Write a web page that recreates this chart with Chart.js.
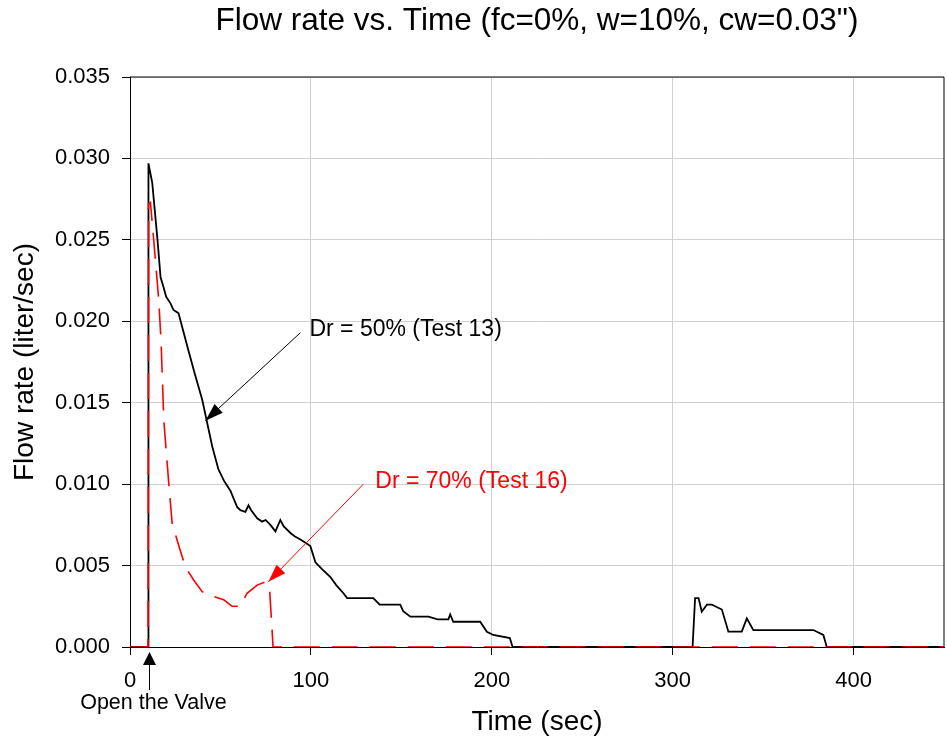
<!DOCTYPE html>
<html>
<head>
<meta charset="utf-8">
<title>Flow rate vs. Time</title>
<script src="https://cdn.jsdelivr.net/npm/chart.js@4/dist/chart.umd.min.js"></script>
<style>
  body { margin: 0; background: #fff; }
  #chart { display: block; }
</style>
</head>
<body>
<canvas id="chart" width="947" height="745"></canvas>
<script>
// Test 13 (Dr = 50%) - time in sec, flow in liter/sec
const t13 = [0, 10, 10.2, 12.3, 15.2, 16.9, 18.5, 20, 22.4, 24, 26.8, 28, 32.3, 36, 39.9, 42.6, 45.5, 48.9,
  52, 55.5, 59.2, 61, 63.8, 65.5, 67, 70.3, 73, 75, 77.6, 80.4, 83.1, 85, 88.7, 91, 94.2, 97, 99.7,
  102.5, 106, 110.8, 114, 118, 120, 134.5, 138, 149.4, 151, 155, 165, 170, 176, 177, 178.7, 193.6,
  197.3, 200.8, 210, 211.5, 311, 312.4, 314.3, 316.1, 318.9, 321.7, 327.2, 330.8, 338.2, 341, 344.6,
  377.8, 383.3, 385.2, 450];
const q13 = [0, 0, 0.0297, 0.0285, 0.025, 0.0227, 0.0221, 0.0215, 0.0211, 0.0207, 0.0205, 0.0200, 0.0182,
  0.0167, 0.0152, 0.0138, 0.0123, 0.0109, 0.0102, 0.0096, 0.0086, 0.0084, 0.0083, 0.0087, 0.0084, 0.0079,
  0.0077, 0.0078, 0.0075, 0.0071, 0.0078, 0.0074, 0.0070, 0.0068, 0.0066, 0.0064, 0.0062, 0.0052, 0.0048,
  0.0043, 0.0038, 0.0033, 0.0030, 0.0030, 0.0026, 0.0026, 0.0022, 0.00186, 0.00186, 0.0017, 0.0017,
  0.0020, 0.00155, 0.00155, 0.00094, 0.00074, 0.00055, 0, 0, 0.0030, 0.0030, 0.00217, 0.0026, 0.0026,
  0.0023, 0.00094, 0.00094, 0.00176, 0.00104, 0.00104, 0.00074, 0, 0];

// Test 16 (Dr = 70%)
const t16 = [0, 10, 10.3, 11.3, 13.1, 15.9, 17.2, 18.7, 21.4, 23.3, 27, 30.7, 35.3, 39.9, 46.3, 51.8,
  56.5, 61, 64.7, 70.3, 74.9, 77.2, 79.1, 450];
const q16 = [0, 0, 0.0272, 0.0273, 0.025, 0.0213, 0.0187, 0.0139, 0.0101, 0.0076, 0.0062, 0.0049, 0.0041,
  0.0034, 0.0031, 0.0029, 0.0025, 0.0025, 0.0033, 0.0038, 0.0040, 0.0035, 0, 0];

const xTicks = [0, 100, 200, 300, 400];
const yTicks = [0, 0.005, 0.010, 0.015, 0.020, 0.025, 0.030, 0.035];

// labels with arrows, in data units
const notes = [
  { text: 'Dr = 50% (Test 13)', color: '#000000', at: [99.2, 0.01946], from: [94.2, 0.0193], to: [41.7, 0.0139] },
  { text: 'Dr = 70% (Test 16)', color: '#ff0000', at: [135.6, 0.01013], from: [129, 0.0100], to: [76.5, 0.0040] },
];
const valveAt = 10.5;
const valveText = 'Open the Valve';

const FONT = '"Liberation Sans", Arial, sans-serif';
Chart.defaults.font.family = FONT;
Chart.defaults.color = '#000';

const toPoints = (xs, ys) => xs.map((x, i) => ({ x: x, y: ys[i] }));

function arrowHead(ctx, x1, y1, x2, y2, len, half) {
  const a = Math.atan2(y2 - y1, x2 - x1);
  ctx.beginPath();
  ctx.moveTo(x2, y2);
  ctx.lineTo(x2 - len * Math.cos(a) + half * Math.sin(a), y2 - len * Math.sin(a) - half * Math.cos(a));
  ctx.lineTo(x2 - len * Math.cos(a) - half * Math.sin(a), y2 - len * Math.sin(a) + half * Math.cos(a));
  ctx.closePath();
  ctx.fill();
}

const frame = {
  id: 'frame',
  beforeDatasetsDraw(chart) {
    const { ctx, chartArea: a } = chart;
    ctx.save();
    ctx.strokeStyle = '#000';
    ctx.lineWidth = 1;
    ctx.beginPath();
    ctx.moveTo(a.left, a.top);
    ctx.lineTo(a.right, a.top);
    ctx.lineTo(a.right, a.bottom);
    ctx.stroke();
    ctx.restore();
  }
};

const annotate = {
  id: 'annotate',
  afterDatasetsDraw(chart) {
    const { ctx, scales: { x, y }, chartArea } = chart;
    ctx.save();
    ctx.font = '23px ' + FONT;
    ctx.textBaseline = 'middle';
    ctx.textAlign = 'left';
    notes.forEach(n => {
      const x1 = x.getPixelForValue(n.from[0]), y1 = y.getPixelForValue(n.from[1]);
      const x2 = x.getPixelForValue(n.to[0]), y2 = y.getPixelForValue(n.to[1]);
      ctx.strokeStyle = n.color;
      ctx.fillStyle = n.color;
      ctx.lineWidth = 1;
      ctx.beginPath();
      ctx.moveTo(x1, y1);
      ctx.lineTo(x2, y2);
      ctx.stroke();
      arrowHead(ctx, x1, y1, x2, y2, 18, 6);
      ctx.fillText(n.text, x.getPixelForValue(n.at[0]), y.getPixelForValue(n.at[1]));
    });

    // valve marker below the axis
    const vx = Math.round(x.getPixelForValue(valveAt)) + 0.5;
    const b = chartArea.bottom;
    ctx.strokeStyle = '#000';
    ctx.fillStyle = '#000';
    ctx.beginPath();
    ctx.moveTo(vx, b + 43);
    ctx.lineTo(vx, b + 15);
    ctx.stroke();
    arrowHead(ctx, vx, b + 43, vx, b + 5, 13, 6.5);
    ctx.font = '21.5px ' + FONT;
    ctx.textAlign = 'center';
    ctx.fillText(valveText, vx + 4, b + 56);
    ctx.restore();
  }
};

new Chart(document.getElementById('chart'), {
  type: 'line',
  data: {
    datasets: [
      {
        label: 'Dr = 70% (Test 16)',
        data: toPoints(t16, q16),
        borderColor: '#ff0000',
        borderWidth: 1.6,
        borderDash: [26, 12],
        pointRadius: 0,
        tension: 0,
        order: 0,
      },
      {
        label: 'Dr = 50% (Test 13)',
        data: toPoints(t13, q13),
        borderColor: '#000000',
        borderWidth: 1.8,
        pointRadius: 0,
        tension: 0,
        order: 1,
      },
    ],
  },
  options: {
    responsive: false,
    animation: false,
    devicePixelRatio: 1,
    layout: { padding: { right: 3 } },
    plugins: {
      legend: { display: false },
      tooltip: { enabled: false },
      title: {
        display: true,
        fullSize: false,
        text: 'Flow rate vs. Time (fc=0%, w=10%, cw=0.03")',
        font: { size: 31.5, weight: 'normal' },
        color: '#000',
        padding: { top: 2, bottom: 37.2 },
      },
    },
    scales: {
      x: {
        type: 'linear',
        min: 0,
        max: 450,
        afterBuildTicks: s => { s.ticks = xTicks.map(v => ({ value: v })); },
        afterFit: s => { s.height = 98; },
        ticks: { font: { size: 22 }, color: '#000', padding: 13 },
        grid: { color: '#d0d0d0', tickColor: '#000', tickLength: 8 },
        border: { color: '#000', width: 1 },
        title: { display: true, text: 'Time (sec)', font: { size: 28 }, color: '#000', padding: { top: 4, bottom: 6 } },
      },
      y: {
        type: 'linear',
        min: 0,
        max: 0.035,
        afterBuildTicks: s => { s.ticks = yTicks.map(v => ({ value: v })); },
        afterFit: s => { s.width = 130; },
        ticks: { font: { size: 22 }, color: '#000', padding: 12, callback: v => v.toFixed(3) },
        grid: { color: '#d0d0d0', tickColor: '#000', tickLength: 8 },
        border: { color: '#000', width: 1 },
        title: { display: true, text: 'Flow rate (liter/sec)', font: { size: 28 }, color: '#000', padding: { top: 8 } },
      },
    },
  },
  plugins: [frame, annotate],
});
</script>
</body>
</html>
